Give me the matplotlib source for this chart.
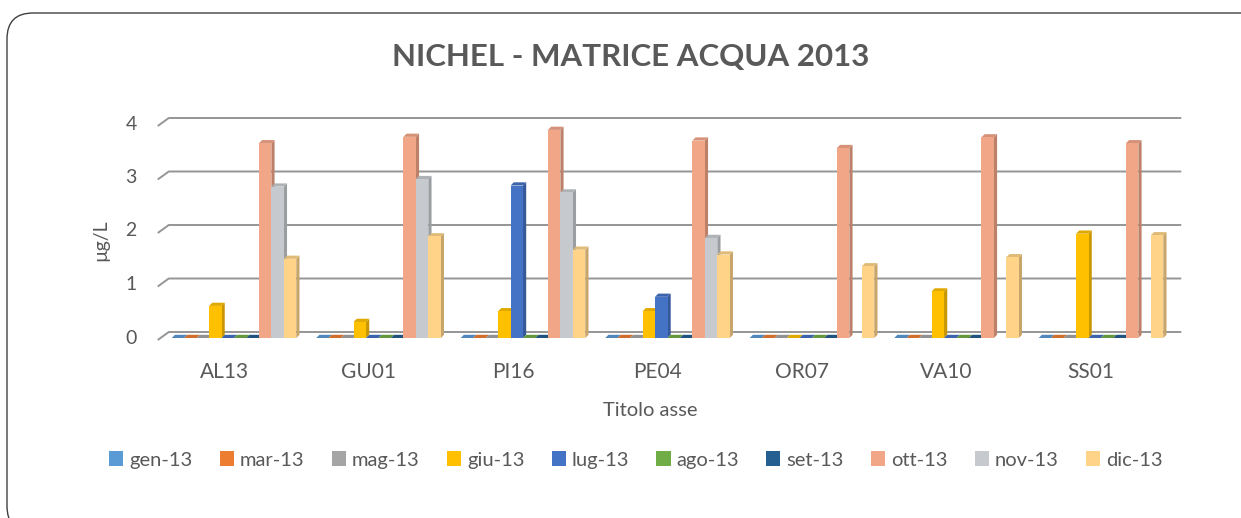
import numpy as np
import matplotlib.pyplot as plt
from matplotlib.patches import Rectangle, Polygon, Patch, FancyBboxPatch
from matplotlib.transforms import IdentityTransform

# --- dati: nichel in acqua, µg/L ---
stazioni = ["AL13", "GU01", "PI16", "PE04", "OR07", "VA10", "SS01"]
mesi = ["gen-13", "mar-13", "mag-13", "giu-13", "lug-13",
        "ago-13", "set-13", "ott-13", "nov-13", "dic-13"]

gen_13 = [0, 0, 0, 0, 0, 0, 0]
mar_13 = [0, 0, 0, 0, 0, 0, 0]
mag_13 = [0, 0, 0, 0, 0, 0, 0]
giu_13 = [0.6, 0.3, 0.5, 0.5, 0, 0.87, 1.95]
lug_13 = [0, 0, 2.85, 0.77, 0, 0, 0]
ago_13 = [0, 0, 0, 0, 0, 0, 0]
set_13 = [0, 0, 0, 0, 0, 0, 0]
ott_13 = [3.64, 3.76, 3.89, 3.69, 3.55, 3.75, 3.64]
nov_13 = [2.83, 2.97, 2.72, 1.87, np.nan, np.nan, np.nan]
dic_13 = [1.48, 1.90, 1.65, 1.56, 1.34, 1.51, 1.92]

serie = [gen_13, mar_13, mag_13, giu_13, lug_13,
         ago_13, set_13, ott_13, nov_13, dic_13]
colori = ["#5B9BD5", "#ED7D31", "#A5A5A5", "#FFC000", "#4472C4",
          "#70AD47", "#255E91", "#F2A688", "#C6CACE", "#FFD488"]

GRIGIO = "#595959"
FONT = "Lato"

W, H = 1241, 518
fig = plt.figure(figsize=(W / 100, H / 100), dpi=100)

# cornice arrotondata del grafico (coordinate in pixel)
bordo = FancyBboxPatch((7, H - 532), 1262, 519,
                       boxstyle="round,pad=0,rounding_size=26",
                       transform=IdentityTransform(), fill=False,
                       edgecolor="#404040", linewidth=1.0, clip_on=False)
fig.patches.append(bordo)

# area del grafico (pixel)
ax_l, ax_r = 161.75, 1173.25
ax_top, ax_bot = 124, 338
ax = fig.add_axes([ax_l / W, (H - ax_bot) / H, (ax_r - ax_l) / W, (ax_bot - ax_top) / H])
ax.set_xlim(-0.5, len(stazioni) - 0.5)
ax.set_ylim(0, 4)
for s in ax.spines.values():
    s.set_visible(False)
ax.set_xticks([])
ax.set_yticks(range(5))
ax.tick_params(axis="y", length=0, pad=18, labelsize=14, labelcolor=GRIGIO)
for t in ax.get_yticklabels():
    t.set_fontfamily(FONT)
    t.set_va("center")

# conversione pixel -> unità dati
px_x = (len(stazioni)) / (ax_r - ax_l)
px_y = 4 / (ax_bot - ax_top)

# griglia "3D": tratto obliquo a sinistra e linea sulla parete di fondo
x0, x1 = ax.get_xlim()
for v in range(5):
    xs = [x0 - 4 * px_x, x0 + 7 * px_x, x1 + 8 * px_x]
    ys = [v - 2 * px_y, v + 6 * px_y, v + 6 * px_y]
    ax.plot(xs, ys, color="#959595", lw=1.4, zorder=1, clip_on=False,
            solid_capstyle="butt")

# barre con faccia laterale e superiore
n = len(serie)
gruppo = 0.862
w = gruppo / n
dx, dy = 3.2 * px_x, 3.2 * px_y


def scurisci(c, f):
    r, g, b = plt.matplotlib.colors.to_rgb(c)
    return (r * f, g * f, b * f)


for i in range(len(stazioni)):
    for j, (vals, c) in enumerate(zip(serie, colori)):
        h = vals[i]
        if np.isnan(h):
            continue
        xl = i - gruppo / 2 + j * w
        xr = xl + w
        ax.add_patch(Polygon([(xr, 0), (xr + dx, dy), (xr + dx, h + dy), (xr, h)],
                             closed=True, facecolor=scurisci(c, 0.78),
                             edgecolor="none", zorder=2, clip_on=False))
        ax.add_patch(Polygon([(xl, h), (xl + dx, h + dy), (xr + dx, h + dy), (xr, h)],
                             closed=True, facecolor=scurisci(c, 0.88),
                             edgecolor="none", zorder=2, clip_on=False))
        ax.add_patch(Rectangle((xl, 0), w, h, facecolor=c, edgecolor="none",
                               zorder=2, clip_on=False))

# etichette delle stazioni sul bordo anteriore
for i, st in enumerate(stazioni):
    ax.text(i - 10 * px_x, -34 * px_y, st, ha="center", va="center",
            fontsize=15, color=GRIGIO, fontfamily=FONT)

fig.text(631 / W, 1 - 57 / H, "NICHEL - MATRICE ACQUA 2013", ha="center", va="center",
         fontsize=22.5, fontweight="bold", color=GRIGIO, fontfamily=FONT)
fig.text(650 / W, 1 - 410 / H, "Titolo asse", ha="center", va="center",
         fontsize=14.5, color=GRIGIO, fontfamily=FONT)
fig.text(101 / W, 1 - 240 / H, "µg/L", ha="center", va="center", rotation=90,
         fontsize=14, color=GRIGIO, fontfamily=FONT)

maniglie = [Patch(facecolor=c, edgecolor="none") for c in colori]
leg = fig.legend(maniglie, mesi, loc="center", bbox_to_anchor=(636 / W, 1 - 460 / H),
                 ncol=n, frameon=False, handlelength=0.7, handleheight=0.7,
                 handletextpad=0.3, columnspacing=1.35,
                 prop={"family": FONT, "size": 14.5})
for t in leg.get_texts():
    t.set_color(GRIGIO)

fig.savefig("out.png", dpi=100)
